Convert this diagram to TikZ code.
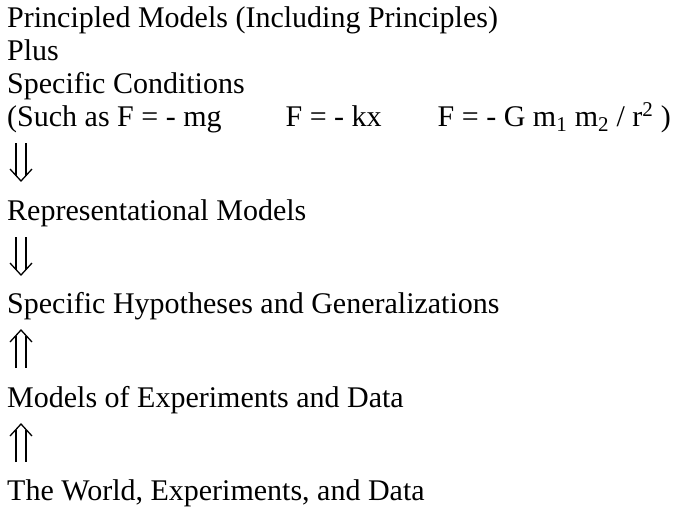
\documentclass[tikz,border=0pt]{standalone}
\usepackage{fontspec}
\setmainfont{Liberation Serif}
\usetikzlibrary{calc}

\tikzset{
	line/.style={anchor=base west, inner sep=0pt, font=\fontsize{30}{33}\selectfont},
	shaft/.style={line width=1.3pt, double distance=8.7pt, shorten >=5.5pt},
	head/.style={line width=1.3pt, line join=miter},
}
% double arrow from #1 to #2
\newcommand{\dblarrow}[2]{%
	\draw[shaft] (#1) -- (#2);
	\draw[head] ($(#2)!12pt!(#1)!11pt!90:(#1)$) -- (#2) -- ($(#2)!12pt!(#1)!11pt!-90:(#1)$);
}

\begin{document}
\begin{tikzpicture}[x=1pt, y=-1pt]
	\useasboundingbox (0,0) rectangle (679,507);
	\node[line] (princ) at (7,27) {Principled Models (Including Principles)};
	\node[line] (plus) at (7,60) {Plus};
	\node[line] (cond) at (7,93) {Specific Conditions};
	\node[line] (such) at (7,126) {(Such as F = - mg\hspace{64pt}F = - kx\hspace{56pt}F = - G m\textsubscript{1} m\textsubscript{2} / r\textsuperscript{2} )};
	\node[line] (repr) at (7,220) {Representational Models};
	\node[line] (hyp) at (7,313) {Specific Hypotheses and Generalizations};
	\node[line] (expt) at (7,407) {Models of Experiments and Data};
	\node[line] (world) at (7,500) {The World, Experiments, and Data};
	% arrows between the levels
	\coordinate (a1) at ([xshift=14pt, yshift=-17pt]such.base west);
	\coordinate (b1) at ([xshift=14pt, yshift=39pt]repr.base west);
	\coordinate (a2) at ([xshift=14pt, yshift=-17pt]repr.base west);
	\coordinate (b2) at ([xshift=14pt, yshift=38pt]hyp.base west);
	\coordinate (a3) at ([xshift=14pt, yshift=-17pt]hyp.base west);
	\coordinate (b3) at ([xshift=14pt, yshift=39pt]expt.base west);
	\coordinate (a4) at ([xshift=14pt, yshift=-17pt]expt.base west);
	\coordinate (b4) at ([xshift=14pt, yshift=38pt]world.base west);
	\dblarrow{a1}{b1}
	\dblarrow{a2}{b2}
	\dblarrow{b3}{a3}
	\dblarrow{b4}{a4}
\end{tikzpicture}
\end{document}
